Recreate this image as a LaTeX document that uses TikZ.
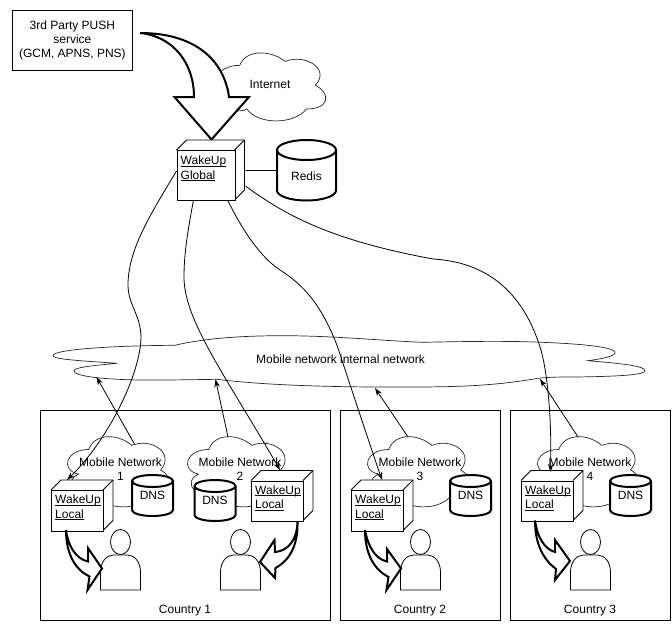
\documentclass[tikz,border=0pt]{standalone}
\usepackage{fontspec}
\setmainfont{Liberation Sans}
\usetikzlibrary{arrows.meta}
\tikzset{
  thinline/.style={line width=0.8pt,draw=black},
  heavy/.style={line width=2pt,draw=black,line join=miter},
  txt/.style={font=\fontsize{12}{14}\selectfont,align=center,inner sep=0pt},
  frame/.style={thinline,inner sep=0pt},
  cubeface/.style={thinline,fill=white,inner sep=0pt,anchor=north west},
  cubetext/.style={font=\fontsize{12}{14.5}\selectfont,align=left,inner sep=0pt,anchor=north west},
  link/.style={thinline,-{Stealth[length=8pt,width=5.5pt]}},
  plainlink/.style={thinline},
  cloudline/.style={line width=0.7pt,draw=black!85,fill=white},
  bigarrow/.style={heavy,fill=white},
}
\newcommand{\ulined}[1]{\setbox0=\hbox{#1}\rlap{\rule[-1.7pt]{\wd0}{0.7pt}}\box0 }
% cube: name, x, y, w, h, label, text offset
\newcommand{\mycube}[7]{%
  \fill[white] (#2,#3) -- ++(10,-10) -- ++(#4,0) -- ++(0,#5) -- ++(-10,10) -- ++(-#4,0) -- cycle;
  \draw[thinline,line join=round] (#2,#3) -- ++(10,-10) -- ++(#4,0) -- ++(0,#5) -- ++(-10,10);
  \draw[thinline] (#2+#4,#3) -- ++(10,-10);
  \node[cubeface,minimum width=#4 pt,minimum height=#5 pt] (#1) at (#2,#3) {};
  \node[cubetext] (#1t) at (#2+4,#3+#7) {\ulined{WakeUp}\\\ulined{#6}};
}
% cylinder: name, x, y, w, h, ry, text, text y
\newcommand{\mycyl}[8]{%
  \path[heavy,fill=white] (#2,#3+#6) arc[start angle=180,end angle=360,x radius=#4/2,y radius=#6]
    -- (#2+#4,#3+#5-#6) arc[start angle=0,end angle=180,x radius=#4/2,y radius=#6] -- cycle;
  \draw[heavy] (#2,#3+#6) arc[start angle=180,end angle=0,x radius=#4/2,y radius=#6];
  \node[inner sep=0pt,minimum width=#4 pt,minimum height=#5 pt,anchor=north west] (#1) at (#2,#3) {};
  \node[txt] (#1t) at (#2+#4/2,#8) {#7};
}
% mxGraph cloud outline: x, y, w, h
\newcommand{\mycloud}[4]{%
  \path[cloudline,shift={(#1,#2)},xscale=#3,yscale=#4]
   (.25,.25) .. controls (.05,.25) and (0,.5) .. (.16,.55)
   .. controls (0,.66) and (.18,.9) .. (.31,.8)
   .. controls (.4,1) and (.7,1) .. (.8,.8)
   .. controls (1,.8) and (1,.6) .. (.875,.5)
   .. controls (1,.3) and (.8,.1) .. (.625,.2)
   .. controls (.5,.05) and (.3,.05) .. (.25,.25) -- cycle;
}
% person: name, cx
\newcommand{\myperson}[2]{%
  \draw[thinline,fill=white] (#2-20,590) -- (#2-20,572) .. controls (#2-20,562) and (#2-14,555) .. (#2-7,555)
     -- (#2+7,555) .. controls (#2+14,555) and (#2+20,562) .. (#2+20,572) -- (#2+20,590) -- cycle;
  \draw[thinline,fill=white] (#2,542) ellipse[x radius=10,y radius=12.5];
  \coordinate (#1) at (#2,565);
}
\begin{document}
\begin{tikzpicture}[x=1pt,y=-1pt]
\useasboundingbox (0,0) rectangle (672,630);
\fill[white] (0,0) rectangle (672,630);

% country frames
\node[frame,draw,minimum width=290pt,minimum height=210pt,anchor=north west] (c1) at (40,410) {};
\node[frame,draw,minimum width=160pt,minimum height=210pt,anchor=north west] (c2) at (340,410) {};
\node[frame,draw,minimum width=160pt,minimum height=210pt,anchor=north west] (c3) at (510,410) {};
\node[txt] (c1t) at (185,611) {Country 1};
\node[txt] (c2t) at (420,611) {Country 2};
\node[txt] (c3t) at (590,611) {Country 3};

% top service box
\node[frame,draw,minimum width=120pt,minimum height=60pt,anchor=north west,txt] (push) at (12,10)
  {3rd Party PUSH\\service\\(GCM, APNS, PNS)};

% internet
\mycloud{209.5}{45.5}{121}{79.4}
\node[txt] (inet) at (270,84) {Internet};

% big arrow
\path[bigarrow] (140,33) .. controls (172,36) and (194,62) .. (194,97)
  -- (174.5,97) -- (211.5,139.5) -- (249,97) -- (229,97)
  .. controls (224,60) and (195,33) .. (140,33) -- cycle;

% internal network cloud
\path[cloudline] (175,345.3) .. controls (205,338) and (245,335.7) .. (282,335.7)
  .. controls (335,335.7) and (385,341) .. (423,342.3)
  .. controls (460,341.5) and (495,341) .. (524,341.7)
  .. controls (570,343) and (615,346) .. (615,352.7)
  .. controls (615,356.5) and (600,359) .. (588,360.7)
  .. controls (615,363) and (645,365.5) .. (645,370.7)
  .. controls (645,375.5) and (610,376.5) .. (575,377)
  .. controls (560,377) and (550,377) .. (538,378.3)
  .. controls (505,384) and (475,386.7) .. (420,387)
  .. controls (350,387.5) and (270,386) .. (217,379.3)
  .. controls (190,379.7) and (165,380.2) .. (141,380)
  .. controls (105,379.5) and (74,376.5) .. (74,370.7)
  .. controls (74,367) and (100,365) .. (117,363.3)
  .. controls (85,361) and (53,359.5) .. (53,355.7)
  .. controls (53,349) and (120,345.5) .. (175,345.3) -- cycle;
\node[txt] (inner) at (340.5,359) {Mobile network internal network};

% mobile clouds
\mycloud{60}{429}{115}{82}
\mycloud{180}{429}{115}{82}
\mycloud{360}{429}{115}{82}
\mycloud{530}{429}{115}{82}
\node[txt] (m1) at (120.5,469) {Mobile Network\\1};
\node[txt] (m2) at (240,469) {Mobile Network\\2};
\node[txt] (m3) at (420,469) {Mobile Network\\3};
\node[txt] (m4) at (590,469) {Mobile Network\\4};

% DNS and Redis
\mycyl{redis}{277}{140}{59}{60.5}{10}{Redis}{176}
\mycyl{d1}{132}{475}{41}{41}{6}{DNS}{495}
\mycyl{d2}{194.5}{480}{41}{41}{6}{DNS}{500}
\mycyl{d3}{450}{475}{41}{41}{6}{DNS}{495}
\mycyl{d4}{610}{475}{41}{41}{6}{DNS}{495}

% cubes
\mycube{wg}{176.5}{150}{58}{50}{Global}{6}
\mycube{l1}{51}{490}{52}{40.5}{Local}{5}
\mycube{l2}{251}{480.5}{52}{40}{Local}{5}
\mycube{l3}{351}{490}{52}{40.5}{Local}{5}
\mycube{l4}{521}{480.5}{52}{40}{Local}{5}

% persons
\myperson{p1}{120.5}
\myperson{p2}{240.5}
\myperson{p3}{420.5}
\myperson{p4}{590.5}

% white arrows
\path[bigarrow] (66,530) .. controls (68,546) and (76,559) .. (88,561.5)
  -- (88,548) -- (102,568.5) -- (87.5,590) -- (89.5,576.5) .. controls (76,570) and (66,555) .. (66,530) -- cycle;
\path[bigarrow] (297.5,522) .. controls (297,540) and (288,551) .. (275,552)
  -- (274.5,540) -- (260,562) -- (275,578) -- (275.5,568) .. controls (290,560) and (298,545) .. (297.5,522) -- cycle;
\path[bigarrow] (365,530) .. controls (368,546) and (375,559) .. (387,561.5)
  -- (387,549) -- (401,568.5) -- (386.5,590) -- (388.5,577) .. controls (375,570) and (365,555) .. (365,530) -- cycle;
\path[bigarrow] (535,520.5) .. controls (537,536) and (544,549) .. (555,552)
  -- (555,540) -- (570,561) -- (555,580) -- (556,569) .. controls (544,560) and (535,545) .. (535,520.5) -- cycle;

% connectors
\coordinate (wgw) at (176.5,171);
\coordinate (wgs1) at (193.5,200);
\coordinate (wgs2) at (228,201);
\coordinate (wge) at (245.5,186);
\coordinate (l1in) at (67,480);
\coordinate (l2in) at (280,470);
\coordinate (l3in) at (382,480);
\coordinate (l4in) at (550.5,472);
\draw[plainlink] (wg.east) ++(10,-5) -- (redis.west);
\draw[link] (wgw) .. controls (150,215) and (128,250) .. (128,285)
  .. controls (128,305) and (141,315) .. (141,338)
  .. controls (140,375) and (108,440) .. (l1in);
\draw[link] (wgs1) .. controls (187,235) and (184,255) .. (184,277)
  .. controls (184,320) and (225,375) .. (l2in);
\draw[link] (wgs2) .. controls (245,235) and (262,258) .. (280,270)
  .. controls (300,283) and (320,300) .. (338,348)
  .. controls (350,385) and (370,445) .. (l3in);
\draw[link] (wge) .. controls (285,215) and (330,240) .. (433,259)
  .. controls (485,262) and (522,290) .. (540,347)
  .. controls (546,365) and (552,410) .. (l4in);

\coordinate (m1o) at (135,445);
\coordinate (m2o) at (228,437);
\coordinate (m3o) at (408,437);
\coordinate (m4o) at (578,437);
\coordinate (n1) at (96.5,377);
\coordinate (n2) at (215.5,379.3);
\coordinate (n3) at (375,388);
\coordinate (n4) at (540,379);
\draw[link] (m1o) -- (n1);
\draw[link] (m2o) -- (n2);
\draw[link] (m3o) -- (n3);
\draw[link] (m4o) -- (n4);
\end{tikzpicture}
\end{document}
